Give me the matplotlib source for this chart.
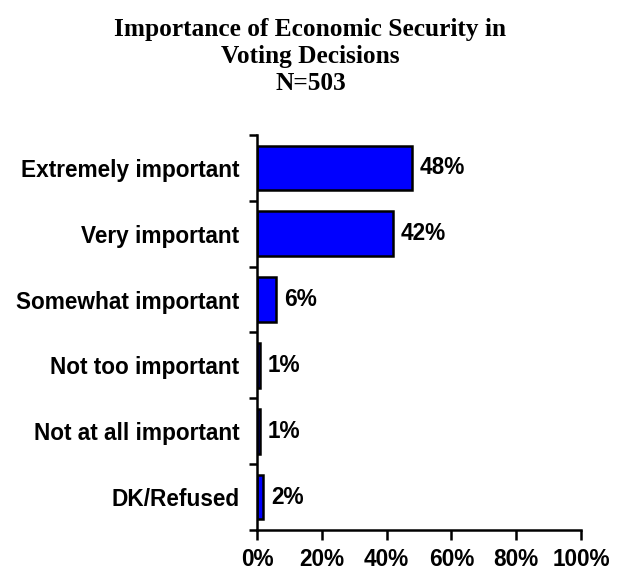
import numpy as np
import matplotlib.pyplot as plt
from matplotlib.ticker import FixedLocator

# data
categories = ["Extremely important", "Very important", "Somewhat important",
              "Not too important", "Not at all important", "DK/Refused"]
values = [48, 42, 6, 1, 1, 2]
xticks = [0, 20, 40, 60, 80, 100]
xtick_labels = ["0%", "20%", "40%", "60%", "80%", "100%"]

fs = 16.3
lab = dict(fontsize=fs, fontweight="bold", family="Liberation Sans")

fig = plt.figure(figsize=(6.21, 5.76), dpi=100)
ax = fig.add_axes([0.4138, 0.0799, 0.5217, 0.6857])

y = np.arange(len(categories))
ax.barh(y, values, height=0.68, color="#0000FF", edgecolor="black", linewidth=1.8)

for yi, v in zip(y, values):
    ax.text(v + 2.3, yi, "%d%%" % v, va="center", ha="left", **lab)

ax.set_xlim(0, 100)
ax.set_ylim(len(categories) - 0.5, -0.5)
ax.set_xticks(xticks)
ax.set_xticklabels(xtick_labels, **lab)

# category labels centered on bars, ticks at boundaries
ax.set_yticks(y)
ax.set_yticklabels(categories, **lab)
ax.tick_params(axis="y", which="major", length=0, pad=12.5)
ax.yaxis.set_minor_locator(FixedLocator(np.arange(-0.5, len(categories), 1)))
ax.tick_params(axis="y", which="minor", length=6, width=1.8, direction="out")
ax.tick_params(axis="x", length=7, width=1.8, direction="out", pad=6)

for s in ["top", "right"]:
    ax.spines[s].set_visible(False)
for s in ["left", "bottom"]:
    ax.spines[s].set_linewidth(1.8)

fig.text(0.5, 0.968, "Importance of Economic Security in\nVoting Decisions\nN=503",
         ha="center", va="top", fontsize=18.3, fontweight="bold",
         family="Liberation Serif", linespacing=1.2)

fig.savefig("out.png", dpi=100)
